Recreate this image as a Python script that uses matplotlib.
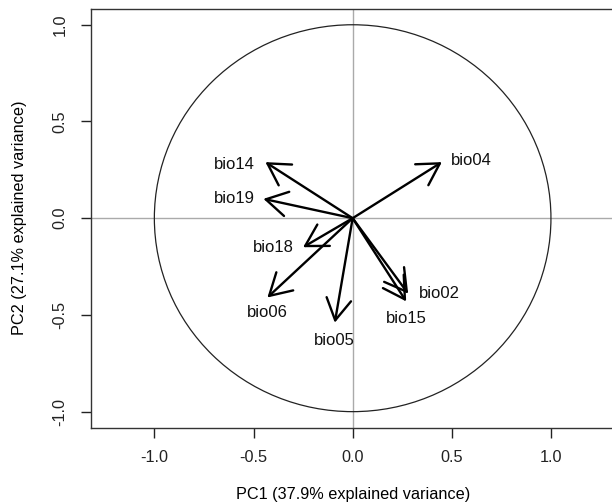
import numpy as np
import matplotlib
matplotlib.use("Agg")
import matplotlib.pyplot as plt
from matplotlib.patches import Circle, FancyArrowPatch

plt.rcParams['font.family'] = ['Liberation Sans', 'DejaVu Sans']

# loadings (arrow tips)
variables = ['bio04', 'bio14', 'bio19', 'bio18', 'bio06', 'bio05', 'bio02', 'bio15']
pc1 = [0.45, -0.44, -0.45, -0.25, -0.43, -0.09, 0.28, 0.27]
pc2 = [0.29, 0.29, 0.10, -0.15, -0.41, -0.54, -0.39, -0.43]

# label positions
lab_x = [0.60, -0.595, -0.595, -0.40, -0.43, -0.09, 0.44, 0.27]
lab_y = [0.30, 0.28, 0.10, -0.15, -0.49, -0.63, -0.39, -0.52]

ticks = [-1.0, -0.5, 0.0, 0.5, 1.0]

fig = plt.figure(figsize=(6.12, 5.04), dpi=100)
ax = fig.add_axes([90.9 / 612, (504 - 427.7) / 504, (614.4 - 90.9) / 612, (427.7 - 8.7) / 504])
ax.set_xlim(-1.32, 1.32)
ax.set_ylim(-1.083, 1.083)

ax.axhline(0, color='#aaaaaa', lw=1.0, zorder=1)
ax.axvline(0, color='#aaaaaa', lw=1.0, zorder=1)
ax.add_patch(Circle((0, 0), 1, fill=False, color='#222222', lw=0.9))

for x, y in zip(pc1, pc2):
    ax.add_patch(FancyArrowPatch((0, 0), (x, y),
                                 arrowstyle='->,head_length=15.4,head_width=8.9',
                                 mutation_scale=1, lw=1.7, color='black',
                                 shrinkA=0, shrinkB=0, zorder=3))

for name, x, y in zip(variables, lab_x, lab_y):
    ax.text(x, y, name, ha='center', va='center', fontsize=12, color='#111111')

ax.set_xticks(ticks)
ax.set_yticks(ticks)
ax.set_xticklabels([f'{t:.1f}' for t in ticks])
ax.set_yticklabels([f'{t:.1f}' for t in ticks], rotation=90, va='center')
ax.tick_params(direction='out', length=7, width=1, labelsize=11.7, colors='#222222')
ax.tick_params(axis='x', pad=9)
ax.tick_params(axis='y', pad=10)

for s in ax.spines.values():
    s.set_color('#333333')
    s.set_linewidth(1)

ax.set_xlabel('PC1 (37.9% explained variance)', fontsize=11.7, labelpad=16)
ax.set_ylabel('PC2 (27.1% explained variance)', fontsize=11.7, labelpad=18)

fig.savefig('out.png', dpi=100)
